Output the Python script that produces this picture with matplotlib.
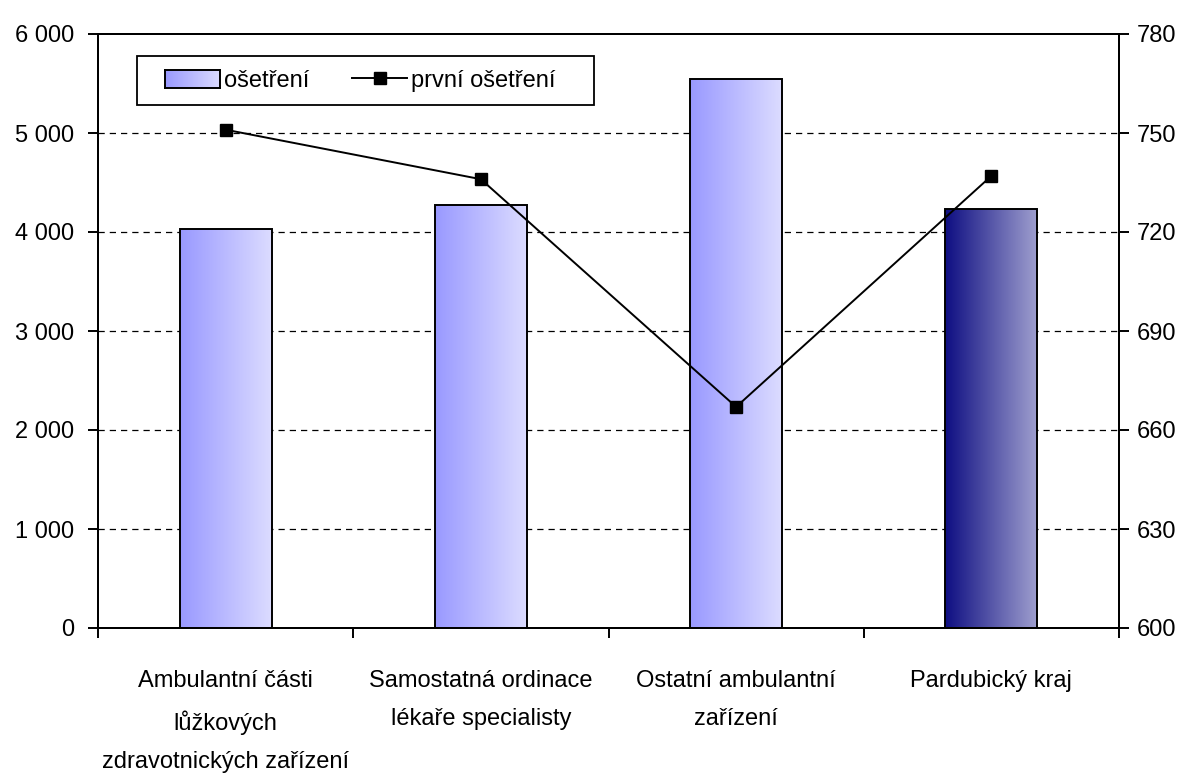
import numpy as np
import matplotlib.pyplot as plt
from matplotlib.patches import Rectangle
from matplotlib.lines import Line2D
from matplotlib.ticker import FuncFormatter

plt.rcParams["font.family"] = ["Liberation Sans", "DejaVu Sans"]
plt.rcParams["font.size"] = 17

categories = ["Ambulantní části\nlůžkových\nzdravotnických zařízení",
              "Samostatná ordinace\nlékaře specialisty",
              "Ostatní ambulantní\nzařízení",
              "Pardubický kraj"]
osetreni = [4030, 4270, 5550, 4230]
prvni_osetreni = [751, 736, 667, 737]

light_grad = [(153, 153, 255), (220, 220, 255)]
dark_grad = [(14, 14, 130), (158, 158, 206)]

W, H = 1189, 778
fig = plt.figure(figsize=(W / 100, H / 100), dpi=100)
ax = fig.add_axes([98 / W, 1 - 628 / H, (1119 - 98) / W, (628 - 34) / H])
ax2 = ax.twinx()

x = np.arange(len(categories))
width = 0.36


def gradient(c0, c1, n=256):
    c0 = np.array(c0) / 255
    c1 = np.array(c1) / 255
    t = np.linspace(0, 1, n)[:, None]
    return (c0 + (c1 - c0) * t)[None, :, :]


for i, val in enumerate(osetreni):
    cols = dark_grad if i == len(osetreni) - 1 else light_grad
    x0 = x[i] - width / 2
    im = ax.imshow(gradient(*cols), extent=[x0, x0 + width, 0, val],
                   aspect="auto", zorder=2, interpolation="bilinear")
    rect = Rectangle((x0, 0), width, val, facecolor="none", edgecolor="black",
                     linewidth=1.4, zorder=3)
    ax.add_patch(rect)
    im.set_clip_path(rect)

ax.set_xlim(-0.5, len(categories) - 0.5)
ax.set_ylim(0, 6000)
ax.set_yticks(range(0, 6001, 1000))
ax.yaxis.set_major_formatter(FuncFormatter(lambda v, p: f"{int(v):,}".replace(",", " ")))
for yv in range(1000, 6000, 1000):
    ax.axhline(yv, color="black", linestyle=(0, (5, 4)), linewidth=0.9, zorder=1)

ax.set_xticks(np.arange(len(categories) + 1) - 0.5)
ax.set_xticklabels([])
ax.set_xticks(x, minor=True)
ax.set_xticklabels(categories, minor=True, linespacing=1.95, va="top")
ax.tick_params(axis="x", which="minor", length=0, pad=30)
ax.tick_params(axis="x", which="major", length=7, width=1.4, direction="out")
ax.tick_params(axis="y", length=7, width=1.4, direction="out", pad=10)

ax2.plot(x, prvni_osetreni, color="black", linewidth=1.4, marker="s",
         markersize=9, zorder=4)
ax2.set_ylim(600, 780)
ax2.set_yticks(range(600, 781, 30))
ax2.tick_params(axis="y", length=7, width=1.4, direction="out", pad=6)

for a in (ax, ax2):
    for s in a.spines.values():
        s.set_linewidth(1.4)

# legend: frame drawn separately, bar handle filled with gradient afterwards
frame = Rectangle((137 / W, 1 - 105 / H), (594 - 137) / W, 49 / H,
                  transform=fig.transFigure, facecolor="white", edgecolor="black",
                  linewidth=1.3, zorder=9)
ax2.add_patch(frame)
frame.set_clip_on(False)

handles = [Rectangle((0, 0), 1, 1, facecolor="none", edgecolor="none"),
           Line2D([], [], color="black", marker="s", markersize=9, linewidth=1.4)]
leg = ax2.legend(handles, ["ošetření", "první ošetření"], ncol=2, loc="center left",
                 bbox_to_anchor=(165 / W, 1 - 81 / H), bbox_transform=fig.transFigure,
                 borderaxespad=0, borderpad=0, frameon=False, columnspacing=1.8,
                 handlelength=2.35, handleheight=0.8, handletextpad=0.15, fontsize=17)
leg.set_zorder(10)

fig.canvas.draw()
bb = leg.legend_handles[0].get_window_extent().transformed(fig.transFigure.inverted())
hax = fig.add_axes([bb.x0, bb.y0, bb.width, bb.height], zorder=20)
hax.imshow(gradient(*light_grad), aspect="auto", interpolation="bilinear")
hax.set_xticks([])
hax.set_yticks([])
for s in hax.spines.values():
    s.set_linewidth(1.4)

fig.savefig("out.png", dpi=100)
